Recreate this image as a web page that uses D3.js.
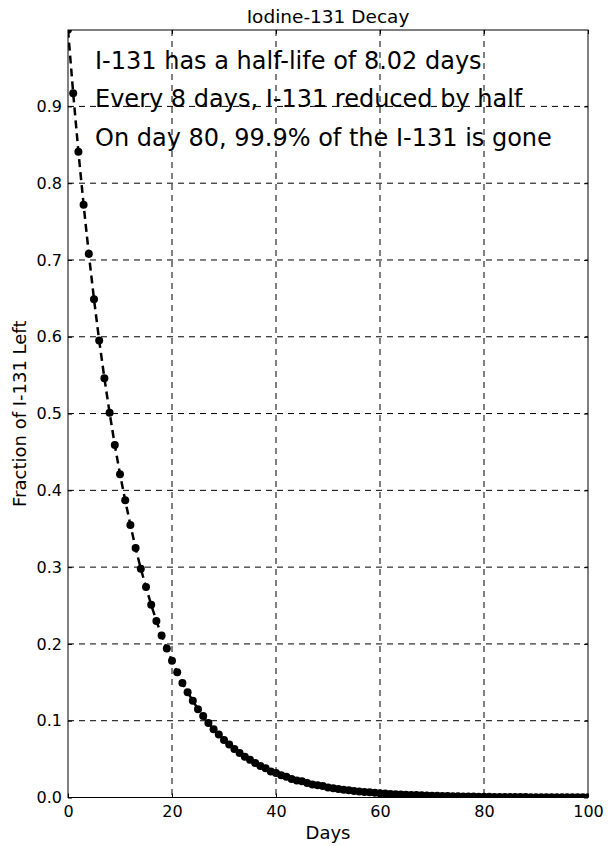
<!DOCTYPE html>
<head>
  <meta charset="utf-8">
  <script src="https://cdn.jsdelivr.net/npm/d3@7"></script>
  <style>
    body { margin:0; background:#fff; }
    text { font-family: "DejaVu Sans", sans-serif; fill:#000; }
  </style>
</head>
<body>
  <script>
    // days since intake, and fraction of I-131 still there
    const days = d3.range(0, 101);
    const fractionLeft = [
      1.000, 0.917, 0.841, 0.772, 0.708, 0.649, 0.595, 0.546, 0.501, 0.459,
      0.421, 0.387, 0.355, 0.325, 0.298, 0.274, 0.251, 0.230, 0.211, 0.194,
      0.178, 0.163, 0.149, 0.137, 0.126, 0.115, 0.106, 0.097, 0.089, 0.082,
      0.075, 0.069, 0.063, 0.058, 0.053, 0.049, 0.045, 0.041, 0.038, 0.034,
      0.032, 0.029, 0.027, 0.024, 0.022, 0.021, 0.019, 0.017, 0.016, 0.015,
      0.013, 0.012, 0.011, 0.010, 0.0094, 0.0086, 0.0079, 0.0073, 0.0067, 0.0061,
      0.0056, 0.0051, 0.0047, 0.0043, 0.0040, 0.0036, 0.0033, 0.0031, 0.0028, 0.0026,
      0.0024, 0.0022, 0.0020, 0.0018, 0.0017, 0.0015, 0.0014, 0.0013, 0.0012, 0.0011,
      0.0010, 0.0009, 0.0008, 0.0008, 0.0007, 0.0006, 0.0006, 0.0005, 0.0005, 0.0004,
      0.0004, 0.0004, 0.0003, 0.0003, 0.0003, 0.0003, 0.0002, 0.0002, 0.0002, 0.0002,
      0.0002
    ];
    const xTicks = [0, 20, 40, 60, 80, 100];
    const yTicks = [0, 0.1, 0.2, 0.3, 0.4, 0.5, 0.6, 0.7, 0.8, 0.9];
    const notes = [
      "I-131 has a half-life of 8.02 days",
      "Every 8 days, I-131 reduced by half",
      "On day 80, 99.9% of the I-131 is gone"
    ];

    const width = 608, height = 846;
    const m = { left: 68, right: 20, top: 30, bottom: 48.5 };
    const iw = width - m.left - m.right, ih = height - m.top - m.bottom;

    const svg = d3.select("body").append("svg")
      .attr("width", width).attr("height", height);

    const x = d3.scaleLinear().domain([0, 100]).range([0, iw]);
    const y = d3.scaleLinear().domain([0, 0.9995]).range([ih, 0]);

    const g = svg.append("g").attr("transform", `translate(${m.left},${m.top})`);

    svg.append("defs").append("clipPath").attr("id", "clip")
      .append("rect").attr("width", iw).attr("height", ih);

    // grid
    g.append("g").selectAll("line").data(xTicks.slice(1, -1)).enter().append("line")
      .attr("x1", d => x(d)).attr("x2", d => x(d)).attr("y1", 0).attr("y2", ih)
      .attr("stroke", "#000").attr("stroke-width", 1).attr("stroke-dasharray", "6,5");
    g.append("g").selectAll("line").data(yTicks.slice(1)).enter().append("line")
      .attr("y1", d => y(d)).attr("y2", d => y(d)).attr("x1", 0).attr("x2", iw)
      .attr("stroke", "#000").attr("stroke-width", 1).attr("stroke-dasharray", "6,5");

    // data
    const data = days.map((d, i) => ({ day: d, v: fractionLeft[i] }));
    const plot = g.append("g").attr("clip-path", "url(#clip)");
    plot.append("path").datum(data)
      .attr("d", d3.line().x(d => x(d.day)).y(d => y(d.v)))
      .attr("fill", "none").attr("stroke", "#000").attr("stroke-width", 2.5)
      .attr("stroke-dasharray", "8,5");
    plot.selectAll("circle").data(data).enter().append("circle")
      .attr("cx", d => x(d.day)).attr("cy", d => y(d.v)).attr("r", 4)
      .attr("fill", "#000");

    // axes (inward ticks on all sides)
    const fmt = d3.format(".1f");
    const xb = g.append("g").attr("transform", `translate(0,${ih})`)
      .call(d3.axisBottom(x).tickValues(xTicks).tickSize(-4).tickPadding(8).tickFormat(d3.format("d")));
    const yl = g.append("g")
      .call(d3.axisLeft(y).tickValues(yTicks).tickSize(-4).tickPadding(6).tickFormat(fmt));
    const xt = g.append("g")
      .call(d3.axisTop(x).tickValues(xTicks).tickSize(-4).tickFormat(""));
    const yr = g.append("g").attr("transform", `translate(${iw},0)`)
      .call(d3.axisRight(y).tickValues(yTicks).tickSize(-4).tickFormat(""));
    [xb, yl, xt, yr].forEach(a => {
      a.select(".domain").remove();
      a.selectAll("text").style("font-size", "16px").style("font-family", "DejaVu Sans");
      a.selectAll("line").attr("stroke", "#000");
    });
    g.append("rect").attr("width", iw).attr("height", ih)
      .attr("fill", "none").attr("stroke", "#000").attr("stroke-width", 1);

    // labels
    svg.append("text").attr("x", m.left + iw / 2).attr("y", 23)
      .attr("text-anchor", "middle").style("font-size", "18.5px").text("Iodine-131 Decay");
    svg.append("text").attr("x", m.left + iw / 2).attr("y", 839)
      .attr("text-anchor", "middle").style("font-size", "18px").text("Days");
    svg.append("text").attr("transform", `translate(26,${m.top + ih / 2}) rotate(-90)`)
      .attr("text-anchor", "middle").style("font-size", "18px").text("Fraction of I-131 Left");

    g.selectAll(".note").data(notes).enter().append("text")
      .attr("class", "note")
      .attr("x", 27).attr("y", (d, i) => 38.5 + i * 38.5)
      .style("font-size", "24px").text(d => d);
  </script>
</body>
